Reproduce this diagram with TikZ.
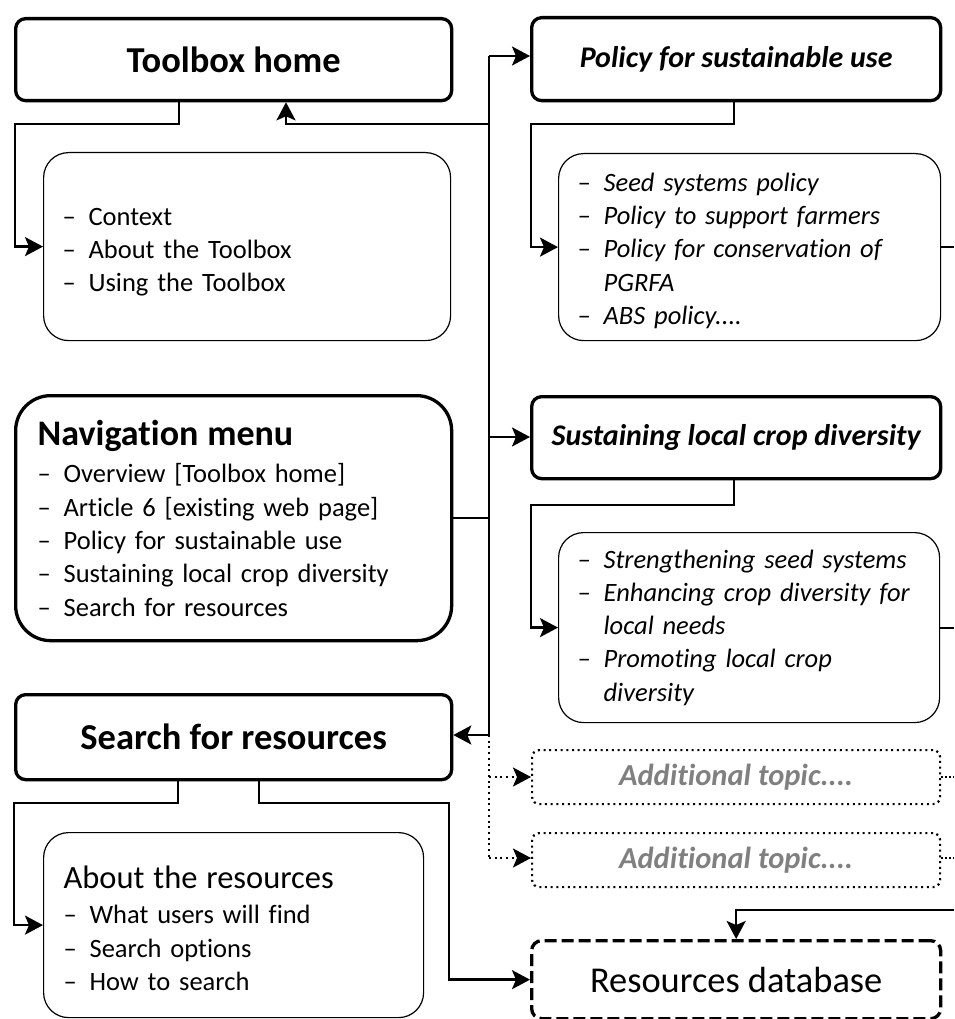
\documentclass[tikz,border=0pt]{standalone}
\usepackage{fontspec}
\setmainfont{Carlito}[Ligatures=CommonOff]
\usetikzlibrary{arrows.meta}
\newcommand{\itm}[1]{\makebox[26pt][l]{–}#1}
\newcommand{\cnt}[1]{\hspace*{26pt}#1}
\definecolor{topicgray}{RGB}{128,128,128}
\tikzset{
  thickbox/.style={draw, line width=3.3pt, rounded corners=10pt, anchor=north west, inner sep=0pt, align=center},
  navbox/.style={draw, line width=3.3pt, rounded corners=35pt, anchor=north west, inner ysep=0pt},
  listbox/.style={draw, line width=1.2pt, rounded corners=25pt, anchor=north west, inner ysep=0pt, inner xsep=19pt, align=left, font=\fontsize{26.5}{33.3}\selectfont},
  dotbox/.style={draw, line width=2.2pt, dash pattern=on 2pt off 3.7pt, rounded corners=7pt, anchor=north west, inner sep=0pt, text=topicgray, font=\fontsize{30.5}{36}\selectfont\bfseries\itshape},
  dashbox/.style={draw, line width=3.3pt, dash pattern=on 12pt off 5pt, rounded corners=10pt, anchor=north west, inner sep=0pt, font=\fontsize{36.4}{42}\selectfont},
  conn/.style={line width=2.5pt},
  thinline/.style={line width=1.2pt},
  dotline/.style={line width=2.2pt, dash pattern=on 2pt off 3.7pt},
  thindot/.style={line width=1.2pt, dash pattern=on 1.5pt off 2.5pt},
  tip/.style={-{Stealth[length=18pt,width=19pt,inset=4pt]}},
  bigtitle/.style={font=\fontsize{36.5}{42}\selectfont\bfseries},
  ittitle/.style={font=\fontsize{30}{36}\selectfont\bfseries\itshape}
}
\begin{document}
\begin{tikzpicture}[x=1pt,y=-1pt]
\useasboundingbox (0,0) rectangle (954,1019);

% left column
\node[thickbox, bigtitle, minimum width=436pt, minimum height=82pt] (home) at (14,17) {Toolbox home};
\node[listbox, text width=369pt, minimum height=188pt] (homesub) at (43,152)
  {\rule{0pt}{28pt}\itm{Context}\\ \itm{About the Toolbox}\\ \itm{Using the Toolbox}};
\node[navbox, inner xsep=22pt, text width=392pt, minimum height=245pt, align=left, font=\fontsize{26.5}{33.3}\selectfont] (nav) at (14,394)
  {{\fontsize{36}{40}\selectfont\bfseries Navigation menu}\\[4.5pt]
   \itm{Overview [Toolbox home]}\\ \itm{Article 6 [existing web page]}\\ \itm{Policy for sustainable use}\\ \itm{Sustaining local crop diversity}\\ \itm{Search for resources}};
\node[thickbox, bigtitle, minimum width=436pt, minimum height=85pt] (search) at (14,693) {Search for resources};
\node[listbox, inner xsep=20pt, text width=340pt, minimum height=185pt] (searchsub) at (43,832)
  {\rule{0pt}{29pt}{\fontsize{32.5}{38}\selectfont About the resources}\\[2pt]
   \itm{What users will find}\\ \itm{Search options}\\ \itm{How to search}};

% right column
\node[thickbox, ittitle, minimum width=409pt, minimum height=83pt] (policy) at (530,16) {Policy for sustainable use};
\node[listbox, text width=344pt, minimum height=187pt, font=\fontsize{26.5}{33.3}\selectfont\itshape] (policysub) at (558,153)
  {\rule{0pt}{26pt}\itm{Seed systems policy}\\ \itm{Policy to support farmers}\\ \itm{Policy for conservation of}\\ \cnt{PGRFA}\\ \itm{ABS policy....}};
\node[thickbox, ittitle, minimum width=409pt, minimum height=82pt] (sust) at (530,395) {Sustaining local crop diversity};
\node[listbox, text width=343pt, minimum height=190pt, font=\fontsize{26.5}{33.3}\selectfont\itshape] (sustsub) at (558,532)
  {\itm{Strengthening seed systems}\\ \itm{Enhancing crop diversity for}\\ \cnt{local needs}\\ \itm{Promoting local crop}\\ \cnt{diversity}};
\node[dotbox, minimum width=408pt, minimum height=54pt] (add1) at (531,749) {Additional topic....};
\node[dotbox, minimum width=408pt, minimum height=54pt] (add2) at (531,832) {Additional topic....};
\node[dashbox, minimum width=409pt, minimum height=78pt] (db) at (530,939) {Resources database};

% bus
\coordinate (bt) at (489,56);
\coordinate (bm) at (489,124);
\coordinate (bs) at (489,437);
\coordinate (bb) at (489,735);
\coordinate (bd1) at (489,777);
\coordinate (bd2) at (489,858);
\draw[conn] (bt) -- (bb);
\draw[conn, tip] (bt) -- (bt -| policy.west);
\draw[conn, tip] (bm) -| ([xshift=272pt]home.south west);
\draw[conn, tip] (bs) -- (bs -| sust.west);
\draw[conn] (nav.east) -- (nav.east -| bt);
\draw[conn, tip] (bb) -- (bb -| search.east);
\draw[dotline] (bb) -- (bd2);
\draw[dotline, tip] (bd1) -- (bd1 -| add1.west);
\draw[dotline, tip] (bd2) -- (bd2 -| add2.west);

% sub connectors
\coordinate (hl) at (15,124);
\draw[conn, tip] ([xshift=165pt]home.south west) |- (hl) |- (homesub.west);
\coordinate (pl) at (531,124);
\draw[conn, tip] ([xshift=204pt]policy.south west) |- (pl) |- (policysub.west);
\coordinate (sl) at (531,505);
\draw[conn, tip] ([xshift=204pt]sust.south west) |- (sl) |- (sustsub.west);
\coordinate (rl) at (14,803);
\draw[conn, tip] ([xshift=164pt]search.south west) |- (rl) |- (searchsub.west);
\coordinate (rr) at (449,803);
\draw[conn, tip] ([xshift=245pt]search.south west) |- (rr) |- (db.west);

% lines leaving to the right edge
\coordinate (e1) at (954,247);
\coordinate (e2) at (954,628);
\coordinate (e3) at (954,777);
\coordinate (e4) at (954,858);
\coordinate (e5) at (954,910);
\draw[thinline] (policysub.east |- e1) -- (e1);
\draw[thinline] (sustsub.east |- e2) -- (e2);
\draw[thindot] (add1.east |- e3) -- (e3);
\draw[thindot] (add2.east |- e4) -- (e4);
\draw[conn, tip] (e5) -| (db.north);
\end{tikzpicture}
\end{document}
